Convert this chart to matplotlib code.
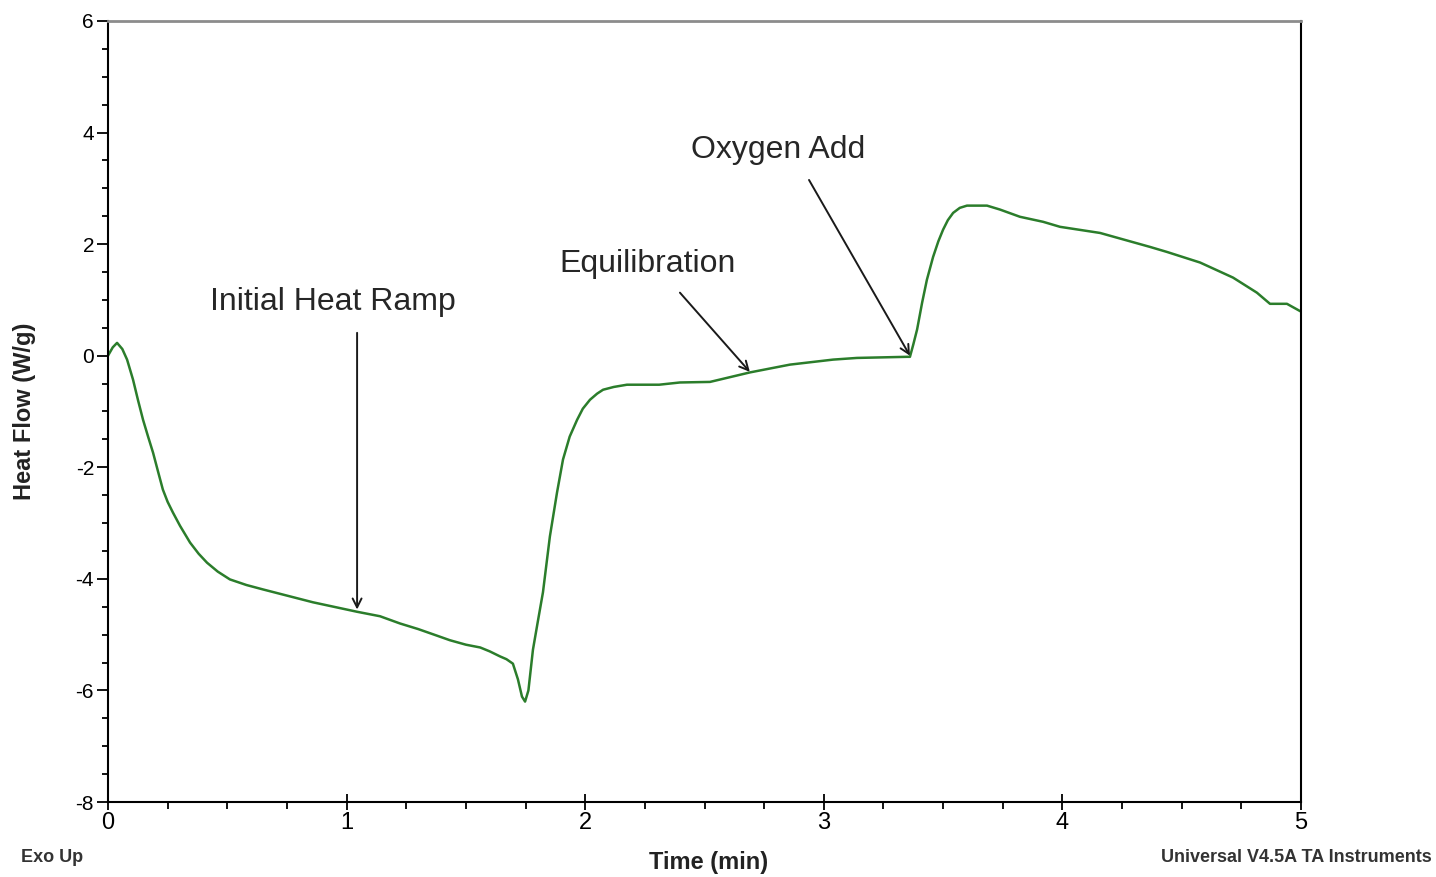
import matplotlib
matplotlib.use("Agg")
import matplotlib.pyplot as plt
from matplotlib.ticker import MultipleLocator

plt.rcParams['font.family'] = ['Liberation Sans', 'DejaVu Sans']
plt.rcParams['axes.unicode_minus'] = False

# heat flow trace (time in min, heat flow in W/g)
time_min = [0.0, 0.02, 0.038, 0.06, 0.08, 0.105, 0.126, 0.147, 0.168, 0.189,
            0.21, 0.23, 0.25, 0.272, 0.302, 0.344, 0.38, 0.415, 0.46, 0.511,
            0.58, 0.65, 0.859, 1.044, 1.14, 1.224, 1.3, 1.38, 1.433, 1.5,
            1.56, 1.6, 1.643, 1.67, 1.697, 1.718, 1.735, 1.748, 1.762, 1.781,
            1.80, 1.823, 1.852, 1.882, 1.907, 1.935, 1.966, 1.99, 2.02, 2.05,
            2.075, 2.12, 2.175, 2.31, 2.397, 2.523, 2.69, 2.858, 3.039, 3.139,
            3.349, 3.361, 3.375, 3.391, 3.412, 3.432, 3.458, 3.48, 3.5, 3.52,
            3.542, 3.57, 3.6, 3.684, 3.738, 3.822, 3.919, 3.99, 4.158, 4.367,
            4.438, 4.577, 4.715, 4.815, 4.87, 4.941, 5.0]
heat_flow = [0.0, 0.15, 0.23, 0.12, -0.07, -0.43, -0.8, -1.15, -1.45, -1.74,
             -2.08, -2.4, -2.62, -2.81, -3.05, -3.35, -3.55, -3.71, -3.87, -4.01,
             -4.11, -4.19, -4.42, -4.59, -4.67, -4.8, -4.9, -5.02, -5.1, -5.18,
             -5.23, -5.3, -5.39, -5.44, -5.52, -5.8, -6.11, -6.2, -6.0, -5.27,
             -4.8, -4.24, -3.24, -2.45, -1.86, -1.45, -1.15, -0.95, -0.79, -0.68,
             -0.61, -0.56, -0.52, -0.52, -0.48, -0.47, -0.30, -0.16, -0.07, -0.04,
             -0.02, -0.02, 0.2, 0.47, 0.95, 1.36, 1.77, 2.05, 2.26, 2.43,
             2.56, 2.65, 2.69, 2.69, 2.62, 2.49, 2.4, 2.31, 2.2, 1.95,
             1.86, 1.67, 1.40, 1.13, 0.93, 0.93, 0.79]

# annotations: label, text position, arrow tail, arrow head
labels = ["Initial Heat Ramp", "Equilibration", "Oxygen Add"]
label_xy = [(0.943, 0.97), (2.263, 1.65), (2.808, 3.69)]
arrow_tail = [(1.044, 0.41), (2.397, 1.13), (2.938, 3.15)]
arrow_head = [(1.044, -4.55), (2.69, -0.29), (3.361, 0.0)]

fig = plt.figure(figsize=(14.36, 8.77), dpi=100)
ax = fig.add_axes([0.0752, 0.0855, 0.8308, 0.8906])

ax.plot(time_min, heat_flow, color='#2b7d2b', lw=1.8)

for text, pos, tail, head in zip(labels, label_xy, arrow_tail, arrow_head):
    ax.text(pos[0], pos[1], text, fontsize=23, color='#262626',
            ha='center', va='center')
    ax.annotate("", xy=head, xytext=tail,
                arrowprops=dict(arrowstyle='->', color='#1a1a1a', lw=1.4,
                                mutation_scale=16, shrinkA=0, shrinkB=0))

ax.set_xlim(0, 5)
ax.set_ylim(-8, 6)
ax.xaxis.set_major_locator(MultipleLocator(1))
ax.xaxis.set_minor_locator(MultipleLocator(0.25))
ax.yaxis.set_major_locator(MultipleLocator(2))
ax.yaxis.set_minor_locator(MultipleLocator(0.5))

ax.tick_params(axis='x', which='major', direction='inout', length=12, width=1.3,
               labelsize=17, pad=1)
ax.tick_params(axis='x', which='minor', direction='out', length=5, width=1.3)
ax.tick_params(axis='y', which='major', direction='out', length=8, width=1.3,
               labelsize=15, pad=2)
ax.tick_params(axis='y', which='minor', direction='out', length=4, width=1.3)

for side in ['left', 'bottom', 'right']:
    ax.spines[side].set_color('black')
    ax.spines[side].set_linewidth(1.5)
ax.spines['top'].set_color('#8c8c8c')
ax.spines['top'].set_linewidth(2)

ax.set_xlabel("Time (min)", fontsize=17, fontweight='bold', color='#222222',
              va='center')
ax.set_ylabel("Heat Flow (W/g)", fontsize=17, fontweight='bold', color='#222222',
              va='center')
ax.xaxis.set_label_coords(0.503, -0.0768)
ax.yaxis.set_label_coords(-0.0696, 0.5)

fig.text(52 / 1436, 1 - 858 / 877, "Exo Up", fontsize=13, fontweight='bold',
         color='#333333', ha='center', va='center')
fig.text(1432 / 1436, 1 - 858 / 877, "Universal V4.5A TA Instruments",
         fontsize=13, fontweight='bold', color='#333333', ha='right', va='center')

plt.savefig("out.png", dpi=100)
